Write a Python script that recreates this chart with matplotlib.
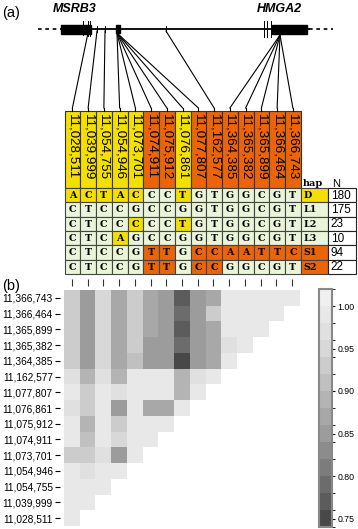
import numpy as np
import matplotlib
matplotlib.use('Agg')
import matplotlib.pyplot as plt
from matplotlib.colors import ListedColormap, BoundaryNorm
from matplotlib.patches import Rectangle

# ---------------- data ----------------
snps = ['11,028,511', '11,039,999', '11,054,755', '11,054,946', '11,073,701',
        '11,074,911', '11,075,912', '11,076,861', '11,077,807', '11,162,577',
        '11,364,385', '11,365,382', '11,365,899', '11,366,464', '11,366,743']
snp_class = ['Y', 'Y', 'Y', 'Y', 'Y', 'O', 'O', 'Y', 'O', 'O', 'O', 'O', 'O', 'O', 'O']
haps = ['D', 'L1', 'L2', 'L3', 'S1', 'S2']
hap_seqs = ['ACTACCCTGTGGCGT',
            'CTCCGCCGGTGGCGT',
            'CTCCCCCTGTGGCGT',
            'CTCAGCCGGTGGCGT',
            'CTCCGTTGCCAATTC',
            'CTCCGTTGCCGGCGT']
hap_n = [180, 175, 23, 10, 94, 22]

# LD rows, top row = last SNP (11,366,743); row r has 15-r cells
ld_rows = [
    [0.93, 0.85, 0.945, 0.865, 0.93, 0.87, 0.855, 0.77, 0.85, 0.87, 0.99, 0.99, 0.99, 0.99, 0.99],
    [0.93, 0.85, 0.945, 0.865, 0.93, 0.87, 0.855, 0.79, 0.85, 0.925, 0.99, 0.99, 0.99, 0.99],
    [0.93, 0.85, 0.945, 0.865, 0.93, 0.87, 0.855, 0.765, 0.85, 0.875, 0.99, 0.99, 0.99],
    [0.93, 0.85, 0.945, 0.865, 0.93, 0.845, 0.845, 0.79, 0.845, 0.865, 0.97, 0.99],
    [0.93, 0.85, 0.945, 0.865, 0.90, 0.845, 0.845, 0.75, 0.85, 0.87, 0.99],
    [0.975, 0.88, 0.975, 0.88, 0.99, 0.99, 0.98, 0.885, 0.97, 0.98],
    [0.985, 0.92, 0.99, 0.965, 0.99, 0.99, 0.985, 0.88, 0.99],
    [0.975, 0.925, 0.985, 0.85, 0.985, 0.86, 0.86, 0.985],
    [0.985, 0.88, 0.985, 0.935, 0.985, 0.99, 0.99],
    [0.985, 0.905, 0.99, 0.955, 0.99, 0.99],
    [0.935, 0.92, 0.97, 0.85, 0.985],
    [0.985, 0.96, 0.985, 0.99],
    [0.99, 0.985, 0.99],
    [0.99, 0.99],
    [0.99],
]
cbar_ticks = [0.75, 0.80, 0.85, 0.90, 0.95, 1.00]
band_colors = ['#484848', '#5c5c5c', '#6c6c6c', '#7c7c7c', '#8c8c8c', '#9c9c9c', '#a8a8a8',
               '#b4b4b4', '#c0c0c0', '#cccccc', '#d8d8d8', '#e0e0e0', '#e8e8e8', '#f0f0f0']

# ---------------- layout ----------------
W, H = 358, 529
FONT = 'Liberation Sans'
SERIF = 'DejaVu Serif'
plt.rcParams['font.family'] = [FONT, 'DejaVu Sans']
YELLOW = '#f4e000'
ORANGE = '#ec6408'
PALE = '#eaf4d8'

fig = plt.figure(figsize=(W / 100, H / 100), dpi=100)
ax0 = fig.add_axes([0, 0, 1, 1])
ax0.set_xlim(0, W)
ax0.set_ylim(H, 0)
ax0.axis('off')

ax0.text(2, 13, '(a)', fontsize=10.5, va='center', ha='left')
ax0.text(2, 286, '(b)', fontsize=10.5, va='center', ha='left')

# gene schematic
gy = 29
ax0.plot([38, 61], [gy, gy], color='k', lw=1.2, ls=(0, (2.2, 2.2)))
ax0.plot([309, 333], [gy, gy], color='k', lw=1.2, ls=(0, (2.2, 2.2)))
ax0.plot([61, 309], [gy, gy], color='k', lw=1.3)
ax0.add_patch(Rectangle((61, 24.5), 30, 9, color='k'))
ax0.add_patch(Rectangle((272, 24.5), 35, 9, color='k'))
ax0.add_patch(Rectangle((116, 25), 3.5, 8, color='k'))
for x, y0, y1 in [(83, 21, 35), (87.5, 21, 36), (89.5, 21, 36), (97, 26, 32), (105, 26, 32),
                  (166, 26, 32), (264, 21, 37), (266.5, 21, 37), (271, 21, 37)]:
    ax0.plot([x, x], [y0, y1], color='k', lw=0.7)
ax0.text(75, 9, 'MSRB3', fontsize=9, style='italic', weight='bold', ha='center', va='center')
ax0.text(279, 9, 'HMGA2', fontsize=9, style='italic', weight='bold', ha='center', va='center')

# table geometry
tx0, cw = 64.5, 15.75
hdr_top, hdr_bot = 111, 188
rh = 14.3
lab_x0, lab_w = tx0 + 15 * cw, 27
n_x0, n_w = lab_x0 + lab_w, 28

src_x = [88, 97, 105, 117, 117, 117, 117, 117, 117, 166, 280, 280, 280, 280, 280]
src_y = [33, 31, 31, 33, 33, 33, 33, 33, 33, 31, 35, 35, 35, 35, 35]
for i in range(len(snps)):
    cx = tx0 + (i + 0.5) * cw
    ax0.plot([src_x[i], cx], [src_y[i], hdr_top - 3], color='k', lw=0.8)
    ax0.plot([cx, cx], [hdr_top - 3, hdr_top], color='k', lw=0.8)

for i, s in enumerate(snps):
    col = YELLOW if snp_class[i] == 'Y' else ORANGE
    ax0.add_patch(Rectangle((tx0 + i * cw, hdr_top), cw, hdr_bot - hdr_top,
                            facecolor=col, edgecolor='#333333', lw=0.8))
    ax0.text(tx0 + (i + 0.5) * cw, hdr_top + 3.5, s, rotation=-90, fontsize=9.6,
             ha='center', va='top')
ax0.text(lab_x0 + 2, hdr_bot - 4, 'hap', family=SERIF, weight='bold', fontsize=7, ha='left', va='center')
ax0.text(n_x0 + 4, hdr_bot - 4, 'N', fontsize=8, ha='left', va='center')

ref_y = hap_seqs[0]
ref_o = hap_seqs[4]
for r, (h, seq, n) in enumerate(zip(haps, hap_seqs, hap_n)):
    y = hdr_bot + r * rh
    for i, a in enumerate(seq):
        if snp_class[i] == 'Y' and a == ref_y[i]:
            fc = YELLOW
        elif snp_class[i] == 'O' and a == ref_o[i]:
            fc = ORANGE
        else:
            fc = PALE
        ax0.add_patch(Rectangle((tx0 + i * cw, y), cw, rh, facecolor=fc, edgecolor='#444444', lw=0.8))
        ax0.text(tx0 + (i + 0.5) * cw, y + rh / 2 + 0.5, a, family=SERIF, weight='bold',
                 fontsize=6.8, ha='center', va='center')
    lc = YELLOW if h.startswith('D') else (ORANGE if h.startswith('S') else PALE)
    ax0.add_patch(Rectangle((lab_x0, y), lab_w, rh, facecolor=lc, edgecolor='#444444', lw=0.8))
    ax0.text(lab_x0 + 3, y + rh / 2 + 0.5, h, family=SERIF, weight='bold', fontsize=6.8,
             ha='left', va='center')
    ax0.add_patch(Rectangle((n_x0, y), n_w, rh, facecolor='white', edgecolor='#222222', lw=0.8))
    ax0.text(n_x0 + 3, y + rh / 2 + 0.5, str(n), fontsize=8.5, ha='left', va='center')

# ---------------- heatmap ----------------
nsnp = len(snps)
M = np.full((nsnp, nsnp), np.nan)
for r, row in enumerate(ld_rows):
    M[r, :len(row)] = row
M = np.ma.masked_invalid(M)

bounds = np.round(np.arange(0.74, 1.0201, 0.02), 2)
cmap = ListedColormap(band_colors)
cmap.set_bad('white')
norm = BoundaryNorm(bounds, cmap.N)

hx0, hy0, hs = 64, 290, 236
ax = fig.add_axes([hx0 / W, 1 - (hy0 + hs) / H, hs / W, hs / H])
im = ax.imshow(M, cmap=cmap, norm=norm, aspect='auto', interpolation='nearest')
for sp in ax.spines.values():
    sp.set_visible(False)
ax.spines['left'].set_position(('outward', 2.9))
ax.spines['top'].set_position(('outward', 2.9))
ax.xaxis.set_ticks_position('top')
ax.set_xticks(range(nsnp))
ax.set_xticklabels([])
ax.set_yticks(range(nsnp))
ax.set_yticklabels(snps[::-1])
ax.tick_params(axis='x', top=True, bottom=False, length=5, width=0.8, color='#333333')
ax.tick_params(axis='y', length=3.6, width=0.8, pad=1.5, labelsize=7.3)

cax = fig.add_axes([319 / W, 1 - 527 / H, 13 / W, 238 / H])
cb = fig.colorbar(im, cax=cax, ticks=cbar_ticks)
cb.ax.set_yticklabels(['%.2f' % t for t in cbar_ticks])
cb.ax.tick_params(length=2, width=0.8, pad=2, labelsize=6.3)
cb.outline.set_edgecolor('#888888')
cb.outline.set_linewidth(1.5)

fig.savefig('out.png', dpi=100)
